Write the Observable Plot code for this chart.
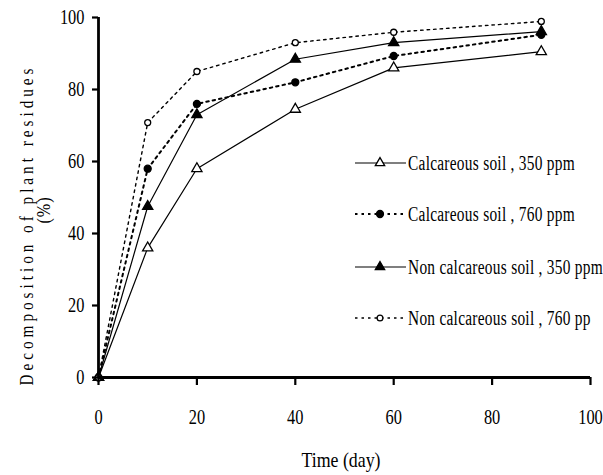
<!DOCTYPE html>
<html><head><meta charset="utf-8">
<script src="https://cdn.jsdelivr.net/npm/d3@7"></script>
<script src="https://cdn.jsdelivr.net/npm/@observablehq/plot@0.6"></script>
<style>body{margin:0;background:#fff}</style>
</head><body><div id="chart"></div>
<script>
const days = [0, 10, 20, 40, 60, 90];
const calc350 = [0, 36, 58, 74.5, 86, 90.5];
const calc760 = [0, 58, 76, 82, 89.3, 95.2];
const noncalc350 = [0, 47.5, 73, 88.4, 93, 96.1];
const noncalc760 = [0, 70.8, 85, 93, 95.9, 98.9];
const seriesNames = ["Calcareous soil , 350 ppm", "Calcareous soil , 760 ppm", "Non calcareous soil , 350 ppm", "Non calcareous soil , 760 pp"];
const xTicks = [0, 20, 40, 60, 80, 100];
const yTicks = [0, 20, 40, 60, 80, 100];
const xLabel = "Time (day)";
const yLabel = "Decomposition of plant residues";
const yLabel2 = "(%)";

const styles = [
  {symbol: "triangle", fill: "white", dash: null, width: 1.2, r: 3.8},
  {symbol: "circle", fill: "black", dash: "2.5,4", width: 2, r: 3.5},
  {symbol: "triangle", fill: "black", dash: null, width: 1.2, r: 3.8},
  {symbol: "circle", fill: "white", dash: "2.5,4", width: 1.4, r: 3}
];
const allValues = [calc350, calc760, noncalc350, noncalc760];
const data = seriesNames.map((name, i) => days.map((d, j) => ({name, day: d, value: allValues[i][j]})));

const marks = [];
data.forEach((rows, i) => {
  const s = styles[i];
  marks.push(Plot.line(rows, {x: "day", y: "value", stroke: "black", strokeWidth: s.width, strokeDasharray: s.dash}));
});
data.forEach((rows, i) => {
  const s = styles[i];
  marks.push(Plot.dot(rows, {x: "day", y: "value", symbol: () => s.symbol, r: s.r, fill: s.fill, stroke: "black", strokeWidth: 1.3}));
});

const plot = Plot.plot({
  width: 603, height: 475,
  marginLeft: 98, marginRight: 13, marginTop: 17, marginBottom: 98,
  style: {fontFamily: "Liberation Serif", background: "white", color: "black"},
  x: {domain: [0, 100]},
  y: {domain: [0, 100]},
  symbol: {type: "identity"},
  marks: [
    ...marks,
    Plot.axisX({ticks: xTicks, tickSize: 8, tickPadding: 24, fontSize: 21, strokeWidth: 2.2, label: null, tickFormat: d => d}),
    Plot.axisY({ticks: yTicks, tickSize: 6, tickPadding: 8, fontSize: 21, strokeWidth: 2.2, label: null, tickFormat: d => d}),
    Plot.ruleY([0], {strokeWidth: 2.8}),
    Plot.ruleX([0], {strokeWidth: 2.8})
  ]
});
document.getElementById("chart").appendChild(plot);

const svg = d3.select(plot);
// condense axis text (original typeface is narrow)
svg.selectAll("g[aria-label$='tick label'] text").each(function() {
  const t = d3.select(this);
  const tr = t.attr("transform");
  if (tr) t.attr("transform", tr + " scale(0.78,1)");
  else {
    const x = +t.attr("x") || 0, y = +t.attr("y") || 0;
    t.attr("transform", `translate(${x},${y}) scale(0.78,1) translate(${-x},${-y})`);
  }
});

// axis titles
svg.append("text").attr("transform", "translate(341,467) scale(0.85,1)")
  .attr("text-anchor", "middle").attr("font-size", 21).attr("font-family", "Liberation Serif").text(xLabel);
svg.append("text").attr("transform", "translate(33,225) rotate(-90) scale(0.8,1)")
  .attr("text-anchor", "middle").attr("font-size", 19).attr("letter-spacing", 5).attr("font-family", "Liberation Serif").text(yLabel);
svg.append("text").attr("transform", "translate(50,210) rotate(-90) scale(0.85,1)")
  .attr("text-anchor", "middle").attr("font-size", 19).attr("letter-spacing", 1).attr("font-family", "Liberation Serif").text(yLabel2);

// legend
const legendRows = [163, 214, 267, 318];
seriesNames.forEach((name, i) => {
  const s = styles[i], yy = legendRows[i];
  const g = svg.append("g");
  g.append("line").attr("x1", 355).attr("x2", 406).attr("y1", yy).attr("y2", yy)
    .attr("stroke", "black").attr("stroke-width", s.width).attr("stroke-dasharray", s.dash);
  g.append("path").attr("d", s.symbol === "triangle" ? d3.symbol(d3.symbolTriangle, 38)() : d3.symbol(d3.symbolCircle, s.fill === "white" ? 26 : 38)())
    .attr("transform", `translate(380,${yy})`).attr("fill", s.fill).attr("stroke", "black").attr("stroke-width", 1.3);
  g.append("text").attr("transform", `translate(408,${yy + 7}) scale(0.77,1)`)
    .attr("text-anchor", "start")
    .attr("font-size", 20).attr("letter-spacing", 0.35).attr("font-family", "Liberation Serif").text(name);
});
</script>
</body></html>
